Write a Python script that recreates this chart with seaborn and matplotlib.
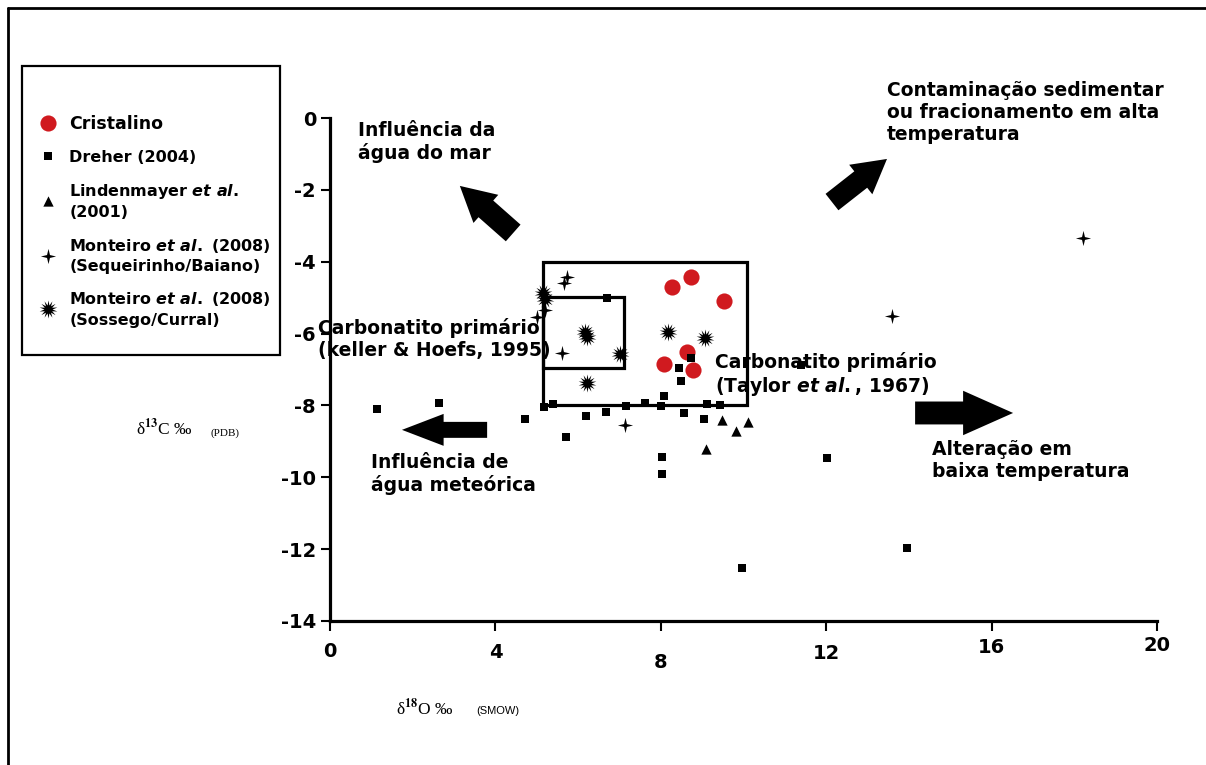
import numpy as np
import matplotlib
matplotlib.use("Agg")
import matplotlib.pyplot as plt
import seaborn as sns
from matplotlib.path import Path
from matplotlib.patches import Rectangle
from matplotlib.lines import Line2D
from matplotlib.transforms import ScaledTranslation

# ---------------- data ----------------
cristalino_d18O = [8.26, 8.72, 9.53, 8.63, 8.08, 8.77]
cristalino_d13C = [-4.71, -4.42, -5.09, -6.52, -6.84, -7.02]

dreher_d18O = [1.14, 2.63, 4.71, 5.18, 5.40, 5.71, 6.19, 6.67, 6.69, 7.16, 7.62,
               8.00, 8.08, 8.04, 8.04, 8.45, 8.48, 8.57, 8.72, 9.04, 9.11, 9.42,
               9.96, 11.40, 12.02, 13.95]
dreher_d13C = [-8.09, -7.94, -8.38, -8.03, -7.95, -8.89, -8.30, -8.17, -5.00, -8.02, -7.93,
               -8.02, -7.75, -9.43, -9.92, -6.97, -7.33, -8.20, -6.67, -8.38, -7.95, -8.00,
               -12.52, -6.88, -9.46, -11.97]

lindenmayer_d18O = [9.47, 10.12, 9.82, 9.09]
lindenmayer_d13C = [-8.41, -8.45, -8.70, -9.22]

sequeirinho_d18O = [18.22, 13.58, 7.13, 5.73, 5.65, 5.00, 5.20, 5.60]
sequeirinho_d13C = [-3.35, -5.51, -8.54, -4.42, -4.58, -5.53, -5.35, -6.55]

sossego_d18O = [5.16, 5.20, 6.17, 6.22, 7.01, 6.22, 8.18, 9.07]
sossego_d13C = [-4.88, -5.05, -5.95, -6.09, -6.58, -7.38, -5.97, -6.11]

taylor_box_d18O = [5.15, 10.08]
taylor_box_d13C = [-8.0, -4.0]
keller_box_d18O = [5.15, 7.10]
keller_box_d13C = [-6.97, -4.97]

x_ticks = [0, 4, 8, 12, 16, 20]
x_tick_labels = ["0", "4", "8", "12", "16", "20"]
y_ticks = [0, -2, -4, -6, -8, -10, -12, -14]
y_tick_labels = ["0", "-2", "-4", "-6", "-8", "-10", "-12", "-14"]

series_labels = [
    "Cristalino",
    "Dreher (2004)",
    "Lindenmayer $\\mathit{et\\ al.}$\n(2001)",
    "Monteiro $\\mathit{et\\ al.}$ (2008)\n(Sequeirinho/Baiano)",
    "Monteiro $\\mathit{et\\ al.}$ (2008)\n(Sossego/Curral)",
]

# ---------------- style ----------------
sns.set_style("ticks")
plt.rcParams.update({
    "font.family": ["DejaVu Sans"],
    "font.weight": "bold",
    "text.color": "black",
    "axes.labelcolor": "black",
    "xtick.color": "black",
    "ytick.color": "black",
    "axes.edgecolor": "black",
    "mathtext.fontset": "custom",
    "mathtext.rm": "DejaVu Sans:bold",
    "mathtext.it": "DejaVu Sans:italic:bold",
    "mathtext.bf": "DejaVu Sans:bold",
    "axes.unicode_minus": False,
})

W, H = 1206, 765
fig = plt.figure(figsize=(W / 100, H / 100), dpi=100)
ax = fig.add_axes([330 / W, 1 - 621 / H, (1157 - 330) / W, (621 - 118) / H])


def star_path(n, inner):
    ang = np.linspace(0, 2 * np.pi, 2 * n, endpoint=False) + np.pi / 2
    r = np.where(np.arange(2 * n) % 2 == 0, 1.0, inner)
    verts = np.column_stack([r * np.cos(ang), r * np.sin(ang)])
    verts = np.vstack([verts, verts[:1]])
    codes = [Path.MOVETO] + [Path.LINETO] * (2 * n - 1) + [Path.CLOSEPOLY]
    return Path(verts, codes)


plus_marker = star_path(4, 0.27)
burst_marker = star_path(14, 0.45)

# boxes
for bx, by in [(taylor_box_d18O, taylor_box_d13C), (keller_box_d18O, keller_box_d13C)]:
    ax.add_patch(Rectangle((bx[0], by[0]), bx[1] - bx[0], by[1] - by[0],
                           fill=False, ec="black", lw=2.3, zorder=2))

sns.scatterplot(x=cristalino_d18O, y=cristalino_d13C, ax=ax, marker="o", s=135,
                color="#d01a1f", linewidth=0, label=series_labels[0], zorder=3)
sns.scatterplot(x=dreher_d18O, y=dreher_d13C, ax=ax, marker="s", s=36,
                color="black", linewidth=0, label=series_labels[1], zorder=4)
sns.scatterplot(x=lindenmayer_d18O, y=lindenmayer_d13C, ax=ax, marker="^", s=55,
                color="black", linewidth=0, label=series_labels[2], zorder=4)
sns.scatterplot(x=sequeirinho_d18O, y=sequeirinho_d13C, ax=ax, marker=plus_marker, s=120,
                color="black", linewidth=0, label=series_labels[3], zorder=4)
sns.scatterplot(x=sossego_d18O, y=sossego_d13C, ax=ax, marker=burst_marker, s=170,
                color="black", linewidth=0, label=series_labels[4], zorder=4)

ax.set_xlim(0, 20)
ax.set_ylim(-14, 0)
ax.set_xlabel("")
ax.set_ylabel("")
for s in ["top", "right"]:
    ax.spines[s].set_visible(False)
for s in ["left", "bottom"]:
    ax.spines[s].set_linewidth(2.3)
    ax.spines[s].set_color("black")
ax.set_xticks(x_ticks, x_tick_labels)
ax.set_yticks(y_ticks, y_tick_labels)
ax.tick_params(axis="x", direction="out", length=7, width=1.5, pad=9, labelsize=14,
               colors="black", bottom=True)
ax.tick_params(axis="y", direction="out", length=6.5, width=1.5, pad=3.5, labelsize=14,
               colors="black", left=True)
for lab in ax.get_xticklabels() + ax.get_yticklabels():
    lab.set_fontweight("bold")
# the reference's x tick labels sit at slightly uneven heights
x_label_shift_px = [-1, 0, 10, 1, -5, -7]
for lab, d in zip(ax.get_xticklabels(), x_label_shift_px):
    lab.set_transform(lab.get_transform() + ScaledTranslation(0, -d / 100, fig.dpi_scale_trans))

# legend
handles, labels = ax.get_legend_handles_labels()
leg = ax.legend(handles, labels, loc="upper left", bbox_to_anchor=(30 / W, 1 - 115 / H),
                bbox_transform=fig.transFigure, frameon=False, fontsize=11.5,
                handlelength=2.2, handletextpad=0.25, labelspacing=1.05,
                borderpad=0, borderaxespad=0, scatteryoffsets=[0.5])
leg.get_texts()[0].set_fontsize(12.5)
for t in leg.get_texts():
    t.set_linespacing(1.35)
fig.add_artist(Rectangle((22 / W, 1 - 355 / H), (280 - 22) / W, (355 - 66) / H,
                         transform=fig.transFigure, fill=False, ec="black", lw=1.6))

# outer frame (top and left)
fig.add_artist(Line2D([8 / W, 8 / W], [0, 1 - 8 / H], transform=fig.transFigure,
                      color="black", lw=2))
fig.add_artist(Line2D([8 / W, 1], [1 - 8 / H, 1 - 8 / H], transform=fig.transFigure,
                      color="black", lw=2))

# annotations
txt_kw = dict(fontsize=13.5, fontweight="bold", va="top", ha="left", zorder=6, color="black")
ax.text(0.68, -0.08, "Influência da\nágua do mar", **txt_kw)
ax.text(13.47, 1.03, "Contaminação sedimentar\nou fracionamento em alta\ntemperatura", **txt_kw)
ax.text(-0.29, -5.57, "Carbonatito primário\n(keller & Hoefs, 1995)", **txt_kw)
ax.text(9.31, -6.50, "Carbonatito primário\n(Taylor $\\mathit{et\\ al.}$, 1967)", **txt_kw)
ax.text(0.98, -9.33, "Influência de\nágua meteórica", **txt_kw)
ax.text(14.55, -8.96, "Alteração em\nbaixa temperatura", **txt_kw)


def block_arrow(tail, tip, hl, hw, tw):
    ax.annotate("", xy=tip, xytext=tail, xycoords="data", textcoords="data",
                annotation_clip=False,
                arrowprops=dict(arrowstyle=f"simple,head_length={hl},head_width={hw},tail_width={tw}",
                                fc="black", ec="black", lw=0, shrinkA=0, shrinkB=0,
                                mutation_scale=1))


block_arrow((4.43, -3.20), (3.14, -1.89), 25, 27, 16)
block_arrow((12.14, -2.34), (13.47, -1.14), 24, 27, 15)
block_arrow((3.80, -8.68), (1.74, -8.68), 30, 23, 11.5)
block_arrow((14.15, -8.21), (16.52, -8.21), 36, 32, 16.5)

# axis titles (serif, outside the axes)
fig.text(136 / W, 1 - 428 / H, "δ$^{13}$C ‰", family="Liberation Serif",
         math_fontfamily="stix", fontsize=12.5, fontweight="normal", va="center", ha="left")
fig.text(210 / W, 1 - 433 / H, "(PDB)", family="Liberation Serif", fontsize=8,
         fontweight="normal", va="center", ha="left")
fig.text(396 / W, 1 - 708 / H, "δ$^{18}$O ‰", family="Liberation Serif",
         math_fontfamily="stix", fontsize=12.5, fontweight="normal", va="center", ha="left")
fig.text(476 / W, 1 - 711 / H, "(SMOW)", family="Liberation Sans", fontsize=8,
         fontweight="normal", va="center", ha="left")

fig.savefig("out.png", dpi=100, facecolor="white")
